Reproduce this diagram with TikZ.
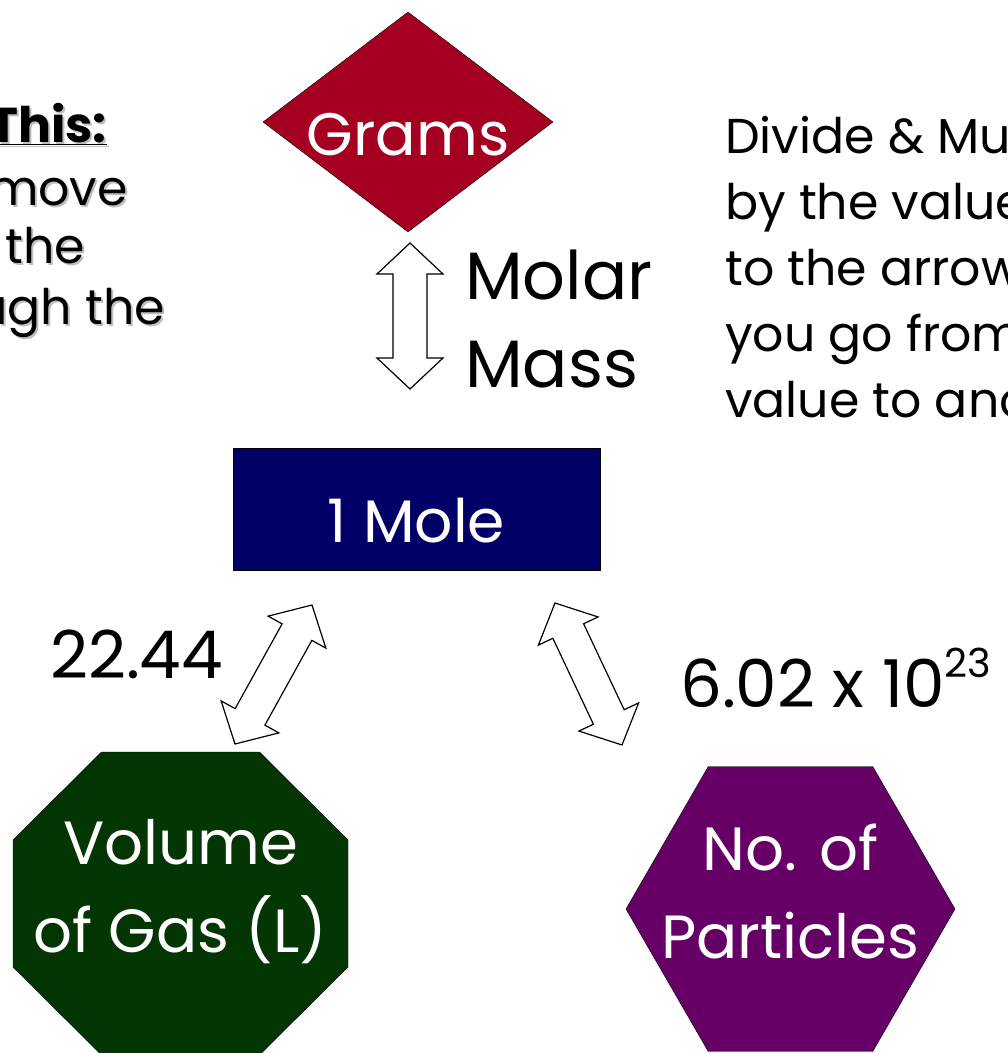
\documentclass[tikz,border=0pt]{standalone}
\usepackage{fontspec}
\setmainfont{Poppins}
\usetikzlibrary{calc, shapes.geometric}
\definecolor{rojoGramos}{HTML}{A50021}
\definecolor{azulMol}{HTML}{000066}
\definecolor{verdeGas}{HTML}{043604}
\definecolor{moradoParticulas}{HTML}{660066}
\colorlet{colSombra}{black!25}
\newcommand{\largoPunta}{31pt}
\newcommand{\anchoPunta}{33pt}
\newcommand{\anchoCuerpo}{17pt}
% flecha hueca de doble punta entre dos puntos con nombre
\newcommand{\flechaBloque}[2]{%
  \draw[flechaHueca] (#1)
    -- ($(#1)!\largoPunta!(#2)!\anchoPunta!90:(#2)$)
    -- ($(#1)!\largoPunta!(#2)!\anchoCuerpo!90:(#2)$)
    -- ($(#2)!\largoPunta!(#1)!\anchoCuerpo!-90:(#1)$)
    -- ($(#2)!\largoPunta!(#1)!\anchoPunta!-90:(#1)$)
    -- (#2)
    -- ($(#2)!\largoPunta!(#1)!\anchoPunta!90:(#1)$)
    -- ($(#2)!\largoPunta!(#1)!\anchoCuerpo!90:(#1)$)
    -- ($(#1)!\largoPunta!(#2)!\anchoCuerpo!-90:(#2)$)
    -- ($(#1)!\largoPunta!(#2)!\anchoPunta!-90:(#2)$)
    -- cycle;}
% texto con sombra gris
\newcommand{\lineaSombra}[3]{%
  \node[textoIzq, text=colSombra] (#1Sombra) at ($(#2)+(2,2)$) {#3};
  \node[textoIzq] (#1) at (#2) {#3};}
\tikzset{
  figuraBase/.style={
    draw=black, thin, inner sep=0pt,
    text=white, font=\fontsize{60}{88}\selectfont
  },
  cajaGramos/.style={figuraBase, diamond, fill=rojoGramos, aspect=1.32,
    minimum width=290pt, minimum height=220pt,
    text height=66pt, text depth=0pt},
  cajaMol/.style={figuraBase, rectangle, fill=azulMol,
    minimum width=367pt, minimum height=122pt,
    text height=66pt, text depth=0pt},
  cajaGas/.style={draw=black, thin, fill=verdeGas},
  cajaParticulas/.style={figuraBase, regular polygon, regular polygon sides=6,
    fill=moradoParticulas, minimum size=329pt},
  textoFigura/.style={align=center, inner sep=0pt, text=white,
    font=\fontsize{61}{88}\selectfont},
  flechaHueca/.style={draw=black, fill=white, line width=1.2pt, line join=miter},
  etiqueta/.style={inner sep=0pt, text=black, font=\fontsize{66}{88}\selectfont},
  textoNota/.style={inner sep=0pt, align=left, text=black,
    font=\fontsize{49}{66}\selectfont},
  textoIzq/.style={inner sep=0pt, anchor=base east, text=black,
    font=\fontsize{49}{61}\selectfont},
}
\begin{document}
\begin{tikzpicture}[x=1pt, y=-1pt]
  \useasboundingbox (0,0) rectangle (1008,1053);
  \clip (0,0) rectangle (1008,1053);

  % figuras
  \node[cajaGramos] (gramos) at (408,122) {Grams};
  \node[cajaMol] (mol) at (416.5,509) {1 Mole};
  \coordinate (gas) at (180.5,903.5);
  \draw[cajaGas] ($(gas)+(-79,-151.5)$) -- ($(gas)+(79,-151.5)$)
    -- ($(gas)+(167.5,-63.5)$) -- ($(gas)+(167.5,63.5)$)
    -- ($(gas)+(79,151.5)$) -- ($(gas)+(-79,151.5)$)
    -- ($(gas)+(-167.5,63.5)$) -- ($(gas)+(-167.5,-63.5)$) -- cycle;
  \node[textoFigura] (textoGas) at ($(gas)+(0,-12)$) {Volume\\of Gas (L)};
  \node[cajaParticulas] (particulas) at (790.5,909) {};
  \node[textoFigura] (textoParticulas) at ($(particulas)+(0,-18)$) {No. of\\Particles};

  % flechas
  \coordinate (gramosAbajo) at (410,243);
  \coordinate (molArriba) at (410,389);
  \coordinate (molIzq) at (312,605);
  \coordinate (gasArriba) at (235,744);
  \coordinate (molDer) at (555,603);
  \coordinate (particulasArriba) at (622,745);
  \flechaBloque{gramosAbajo}{molArriba}
  \flechaBloque{molIzq}{gasArriba}
  \flechaBloque{molDer}{particulasArriba}

  % etiquetas de las flechas
  \node[etiqueta, align=left, anchor=north west, font=\fontsize{67}{88}\selectfont]
    (masaMolar) at (465,250) {Molar\\Mass};
  \node[etiqueta, anchor=base west] (litros) at (50,678) {22.44};
  \node[etiqueta, anchor=base west] (avogadro) at (680,707)
    {6.02 x 10\raisebox{0.45em}{\fontsize{40}{40}\selectfont 23}};

  % notas
  \node[textoNota, anchor=north west] (nota) at (725,116)
    {Divide \& Mult\\by the values\\to the arrow\\you go from a\\value to anot};
  \lineaSombra{titulo}{107,142}{\textbf{\underline{This:}}}
  \lineaSombra{lineaUno}{128,205}{y move}
  \lineaSombra{lineaDos}{85,263}{the}
  \lineaSombra{lineaTres}{165,324}{ugh the}
\end{tikzpicture}
\end{document}
